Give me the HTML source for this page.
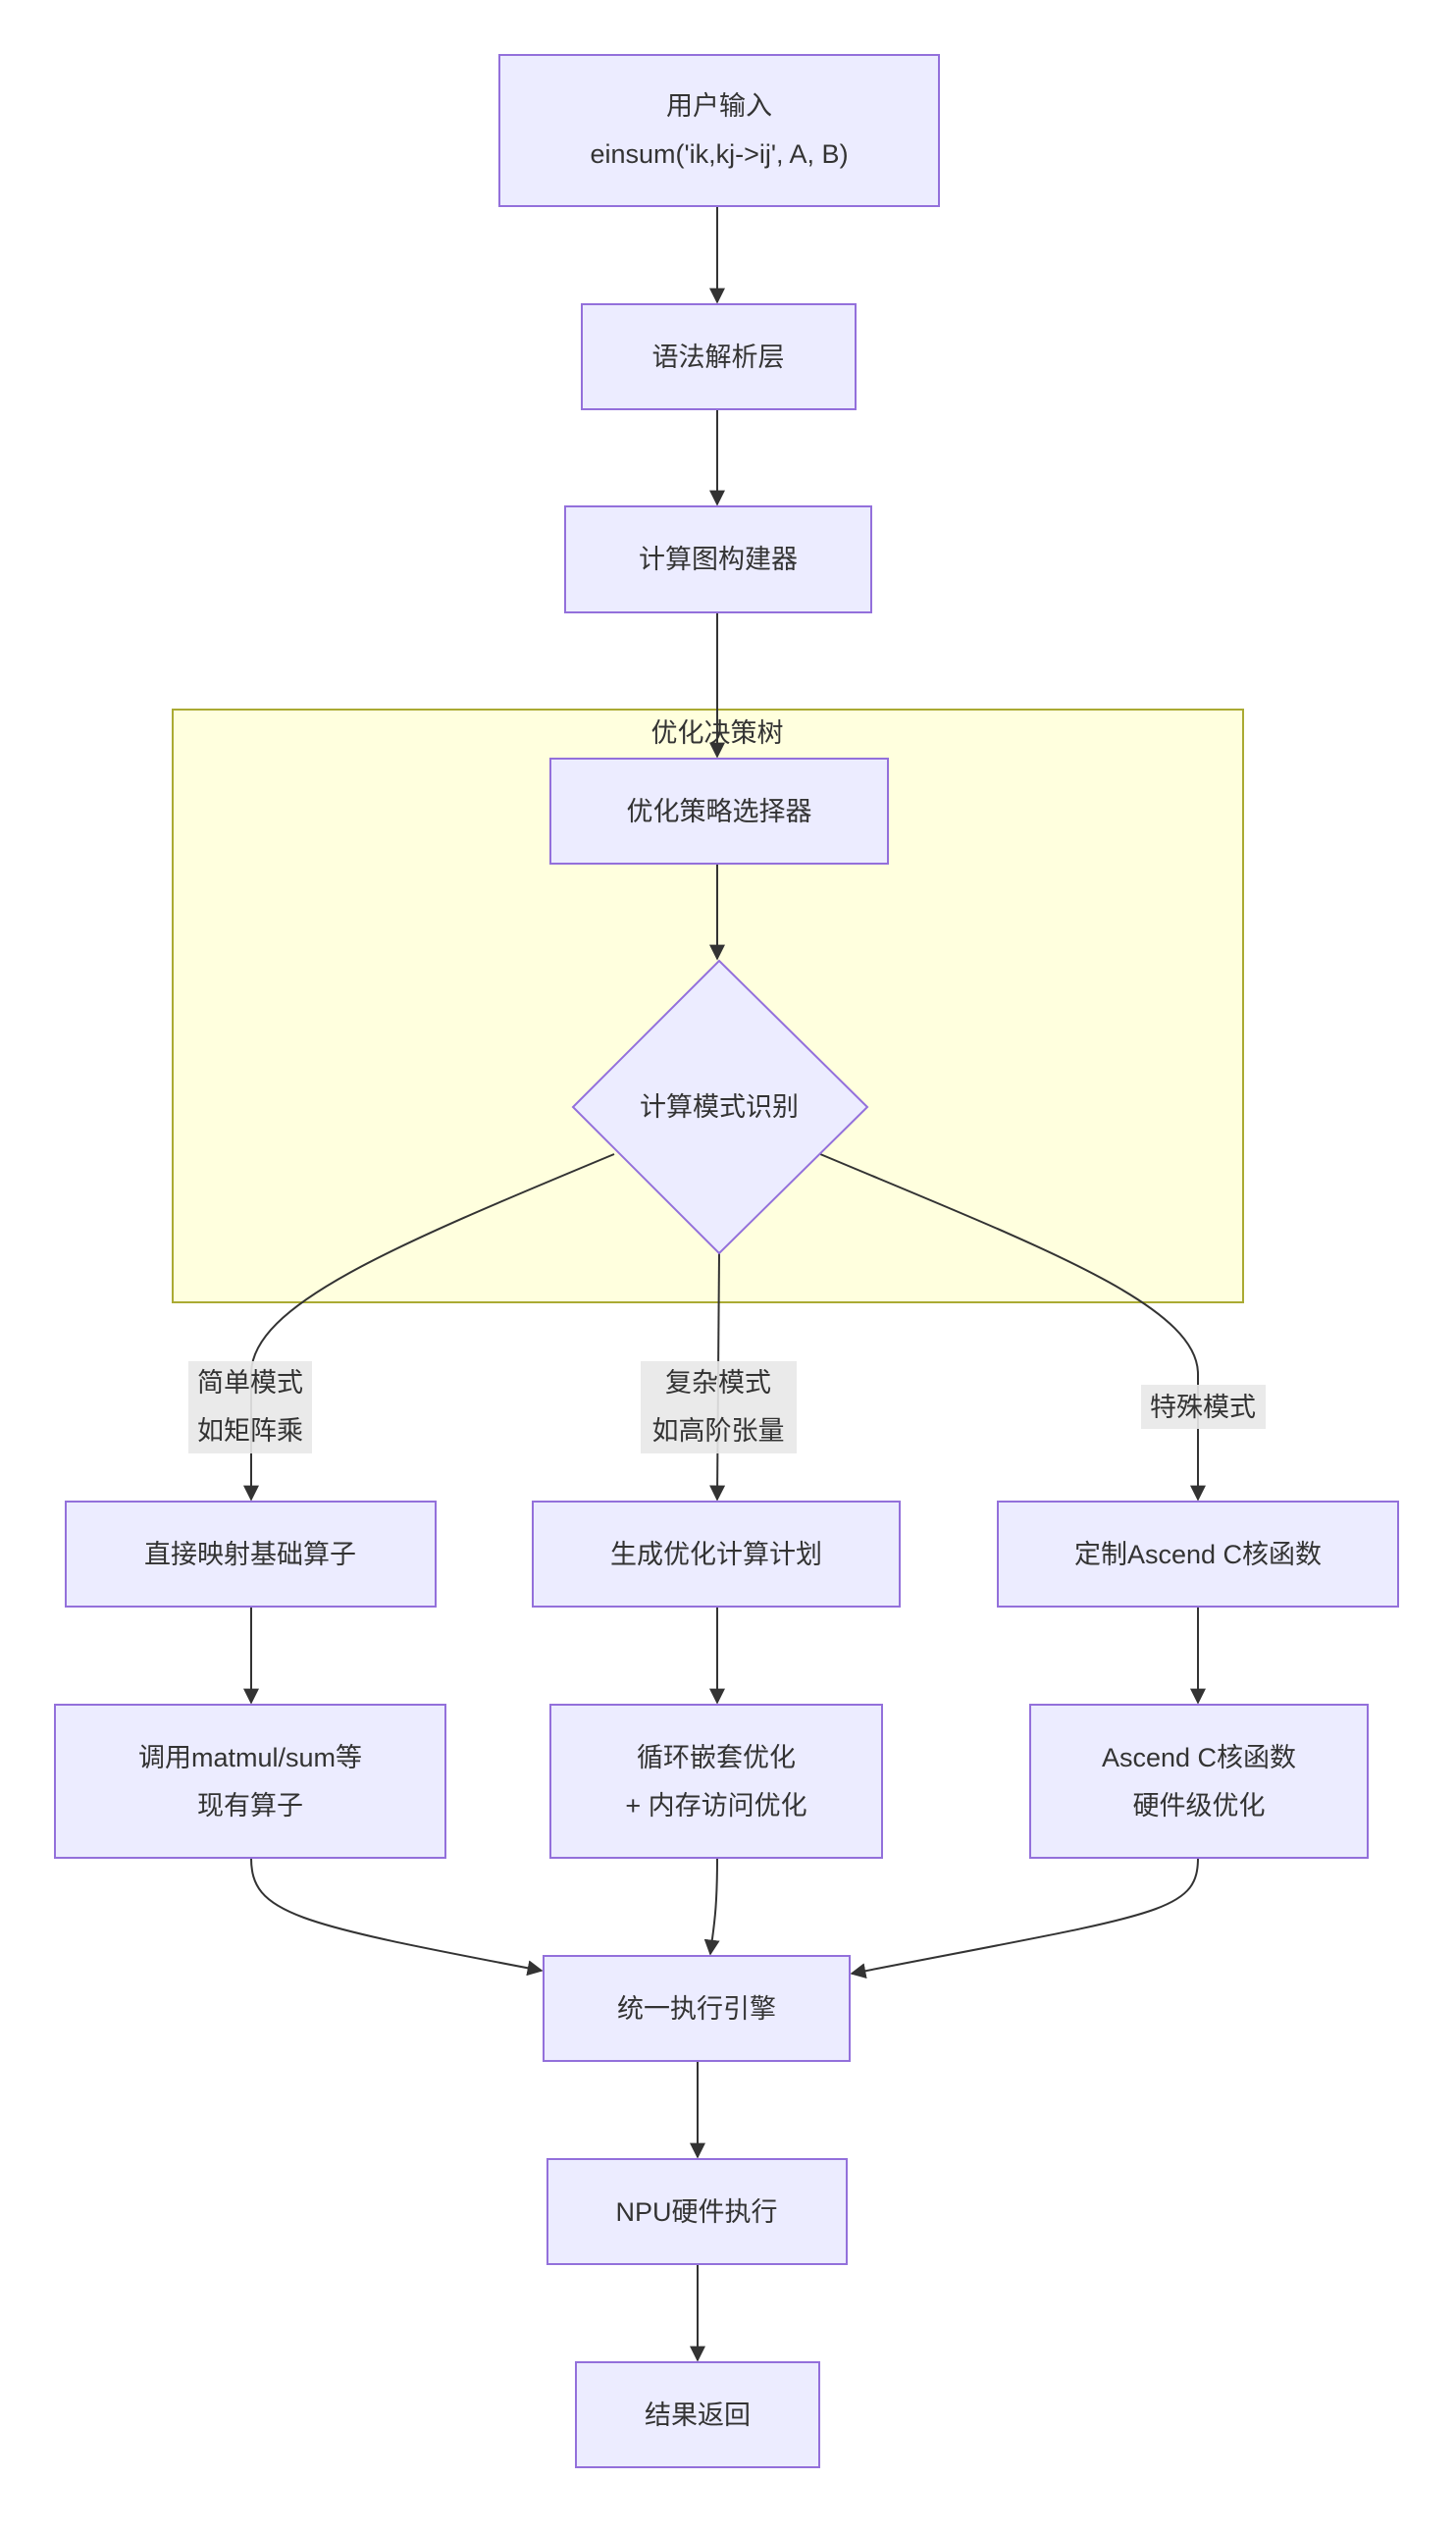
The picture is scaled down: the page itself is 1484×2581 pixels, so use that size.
<!DOCTYPE html>
<html><head><meta charset="utf-8"><style>
html,body{margin:0;padding:0;background:#fff;}
svg text{font-family:"Liberation Sans","Noto Sans CJK SC",sans-serif;font-size:27px;fill:#333;text-anchor:middle;dominant-baseline:central;}
</style></head><body>
<svg width="1484" height="2576" viewBox="0 0 1484 2576" xmlns="http://www.w3.org/2000/svg">
<defs><marker id="a" viewBox="0 0 10 10" refX="9" refY="5" markerWidth="9" markerHeight="9" markerUnits="userSpaceOnUse" orient="auto"><path d="M0,0L10,5L0,10z" fill="#333"/></marker>
<marker id="b" viewBox="0 0 10 10" refX="9" refY="5" markerWidth="16" markerHeight="16" markerUnits="userSpaceOnUse" orient="auto"><path d="M0,0L10,5L0,10z" fill="#333"/></marker></defs>
<rect x="176" y="723" width="1091" height="604" fill="#ffffde" stroke="#aaaa33" stroke-width="2"/>
<text x="731" y="747">优化决策树</text>
<g fill="none" stroke="#333" stroke-width="2" marker-end="url(#b)">
<path d="M731,210 L731,308"/>
<path d="M731,417 L731,514"/>
<path d="M731,624 L731,771"/>
<path d="M731,880 L731,977"/>
<path d="M626,1176 C400,1270 256,1330 256,1400 L256,1528"/>
<path d="M733,1277 L731,1528"/>
<path d="M836,1176 C1060,1270 1221,1330 1221,1400 L1221,1528"/>
<path d="M256,1637 L256,1735"/>
<path d="M731,1637 L731,1735"/>
<path d="M1221,1637 L1221,1735"/>
<path d="M256,1893 C256,1950 300,1960 552,2008"/>
<path d="M731,1893 C731,1950 727,1965 724,1991"/>
<path d="M1221,1893 C1221,1950 1180,1950 868,2011"/>
<path d="M711,2100 L711,2198"/>
<path d="M711,2307 L711,2405"/>
</g>
<g fill="#ececff" stroke="#9370db" stroke-width="2">
<rect x="509" y="56" width="448" height="154"/>
<rect x="593" y="310" width="279" height="107"/>
<rect x="576" y="516" width="312" height="108"/>
<rect x="561" y="773" width="344" height="107"/>
<polygon points="733,979 884,1128 733,1277 584,1128"/>
<rect x="67" y="1530" width="377" height="107"/>
<rect x="543" y="1530" width="374" height="107"/>
<rect x="1017" y="1530" width="408" height="107"/>
<rect x="56" y="1737" width="398" height="156"/>
<rect x="561" y="1737" width="338" height="156"/>
<rect x="1050" y="1737" width="344" height="156"/>
<rect x="554" y="1993" width="312" height="107"/>
<rect x="558" y="2200" width="305" height="107"/>
<rect x="587" y="2407" width="248" height="107"/>
</g>
<g fill="#e8e8e8" opacity="0.9">
<rect x="192" y="1387" width="126" height="94"/>
<rect x="653" y="1387" width="159" height="94"/>
<rect x="1163" y="1411" width="127" height="45"/>
</g>
<text x="733" y="108">用户输入</text>
<text x="733" y="157">einsum('ik,kj-&gt;ij', A, B)</text>
<text x="732" y="364">语法解析层</text>
<text x="732" y="570">计算图构建器</text>
<text x="733" y="827">优化策略选择器</text>
<text x="733" y="1128">计算模式识别</text>
<text x="255" y="1409">简单模式</text>
<text x="255" y="1458">如矩阵乘</text>
<text x="732" y="1409">复杂模式</text>
<text x="732" y="1458">如高阶张量</text>
<text x="1226" y="1434">特殊模式</text>
<text x="255" y="1584">直接映射基础算子</text>
<text x="730" y="1584">生成优化计算计划</text>
<text x="1221" y="1584">定制Ascend C核函数</text>
<text x="255" y="1791">调用matmul/sum等</text>
<text x="255" y="1840">现有算子</text>
<text x="730" y="1791">循环嵌套优化</text>
<text x="730" y="1840">+ 内存访问优化</text>
<text x="1222" y="1791">Ascend C核函数</text>
<text x="1222" y="1840">硬件级优化</text>
<text x="710" y="2047">统一执行引擎</text>
<text x="710" y="2254">NPU硬件执行</text>
<text x="711" y="2461">结果返回</text>
</svg>
</body></html>
